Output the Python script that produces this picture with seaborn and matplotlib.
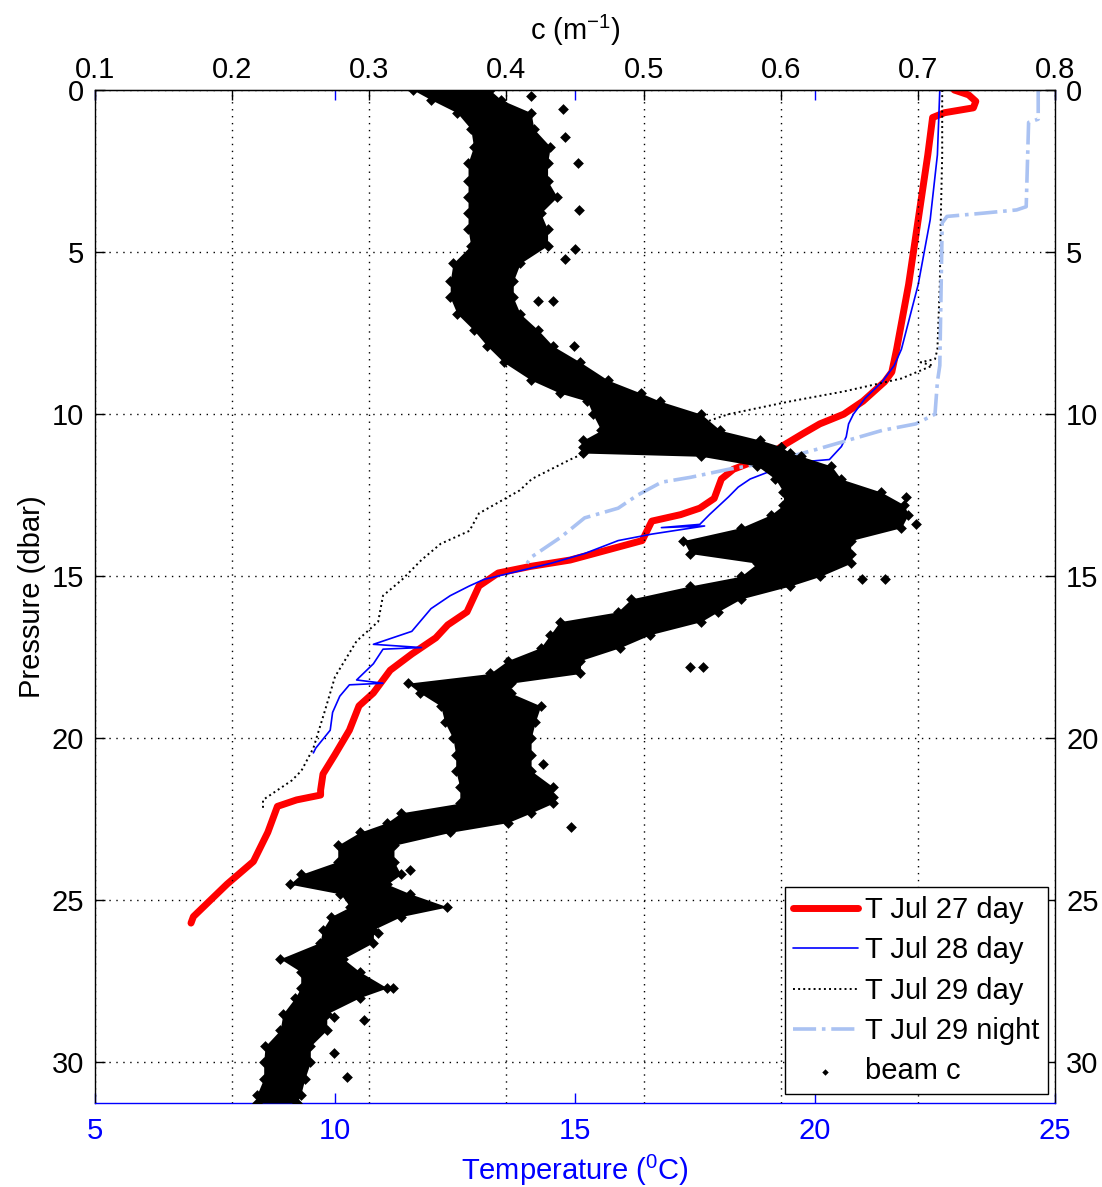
import numpy as np
import pandas as pd
import matplotlib
matplotlib.use("Agg")
import matplotlib.pyplot as plt
import seaborn as sns

# ========== DATA ==========
# temperature profiles: pressure (dbar) and temperature (degC)
p_jul27 = [0.0, 0.15, 0.35, 0.55, 0.7, 0.85, 2.0, 4.0, 6.0, 8.0, 8.7, 9.0, 9.2, 9.6, 10.0, 10.3,
           10.6, 11.0, 11.3, 11.7, 12.0, 12.6, 12.9, 13.1, 13.3, 13.9, 14.1, 14.5, 14.7, 14.9,
           15.3, 16.1, 16.5, 16.9, 17.4, 17.9, 18.6, 19.0, 19.75, 20.5, 21.1, 21.6, 21.75,
           21.9, 22.1, 22.9, 23.8, 24.5, 25.0, 25.5, 25.7]
t_jul27 = [22.9, 23.2, 23.35, 23.3, 22.7, 22.45, 22.35, 22.15, 21.95, 21.7, 21.6, 21.45, 21.3,
           21.0, 20.6, 20.1, 19.75, 19.3, 19.0, 18.3, 18.05, 17.9, 17.6, 17.2, 16.6, 16.4,
           15.9, 14.9, 14.06, 13.4, 13.0, 12.75, 12.35, 12.1, 11.6, 11.15, 10.8, 10.5, 10.3,
           10.0, 9.75, 9.7, 9.7, 9.2, 8.8, 8.6, 8.3, 7.75, 7.4, 7.05, 7.0]

p_jul28 = [0.0, 2.0, 4.0, 6.0, 8.0, 8.5, 9.0, 9.5, 10.0, 10.3, 10.7, 11.0, 11.4, 11.45, 11.5,
           11.8, 12.0, 12.25, 12.55, 13.1, 13.4, 13.5, 13.45, 13.7, 13.9, 14.3, 14.6, 15.1,
           15.3, 15.6, 16.0, 16.7, 17.1, 17.2, 17.25, 17.7, 18.2, 18.3, 18.35, 18.7, 19.2,
           19.75, 20.3, 20.45]
t_jul28 = [22.6, 22.55, 22.4, 22.15, 21.8, 21.65, 21.4, 21.05, 20.8, 20.7, 20.65, 20.55, 20.3,
           19.9, 19.3, 19.0, 18.65, 18.4, 18.2, 17.8, 17.6, 16.8, 17.7, 16.6, 15.9, 15.2, 14.5,
           13.1, 12.8, 12.4, 12.0, 11.6, 10.8, 11.8, 11.0, 10.8, 10.45, 11.0, 10.3, 10.1,
           9.95, 9.9, 9.6, 9.55]

p_jul29_day = [0.0, 2.0, 4.0, 6.0, 8.0, 8.3, 8.4, 8.5, 8.9, 9.3, 9.6, 10.0, 10.3, 10.7, 11.0,
               11.4, 11.7, 12.0, 12.35, 13.06, 13.6, 14.0, 14.5, 15.1, 15.6, 16.4, 17.0, 18.1,
               19.1, 20.3, 21.0, 21.3, 21.9, 22.2]
t_jul29_day = [22.65, 22.65, 22.62, 22.6, 22.55, 22.5, 22.2, 22.45, 21.8, 20.6, 19.5, 18.2,
               17.6, 16.35, 15.5, 14.9, 14.5, 14.1, 13.85, 13.0, 12.8, 12.2, 11.8, 11.4, 11.0,
               10.9, 10.45, 10.0, 9.8, 9.55, 9.3, 9.1, 8.5, 8.5]

p_jul29_night = [0.0, 0.9, 1.0, 3.6, 3.7, 3.8, 3.9, 4.1, 8.5, 9.0, 10.0, 10.3, 10.5, 10.8,
                 11.1, 11.3, 11.5, 11.7, 11.95, 12.1, 12.5, 12.9, 13.2, 13.8, 14.4, 14.6]
t_jul29_night = [24.65, 24.65, 24.45, 24.4, 24.2, 23.5, 22.75, 22.65, 22.6, 22.55, 22.5, 22.1,
                 21.4, 20.7, 20.0, 19.5, 19.0, 18.2, 17.4, 16.8, 16.3, 15.9, 15.2, 14.7, 14.1,
                 14.0]

# beam attenuation c (1/m): envelope of the scatter cloud vs pressure
p_beam = [0.0, 0.3, 0.7, 1.2, 1.75, 2.25, 2.8, 3.3, 3.8, 4.3, 4.8, 5.35, 5.9, 6.4, 6.9, 7.4,
          7.9, 8.4, 8.95, 9.35, 9.6, 10.0, 10.5, 10.8, 11.0, 11.2, 11.3, 11.6, 12.0, 12.4,
          12.8, 13.1, 13.5, 13.9, 14.3, 14.6, 15.0, 15.3, 15.7, 16.1, 16.4, 16.8, 17.2, 17.6,
          18.0, 18.3, 18.6, 19.0, 19.5, 20.0, 20.5, 21.0, 21.5, 22.0, 22.3, 22.6, 22.9, 23.3,
          23.8, 24.2, 24.5, 24.8, 25.2, 25.5, 25.9, 26.3, 26.8, 27.2, 27.7, 28.0, 28.5, 29.0,
          29.5, 30.0, 30.5, 31.0, 31.25]
c_beam_lo = [0.332, 0.345, 0.364, 0.374, 0.376, 0.372, 0.372, 0.372, 0.372, 0.372, 0.374,
             0.361, 0.359, 0.359, 0.364, 0.376, 0.386, 0.398, 0.418, 0.439, 0.459, 0.463,
             0.469, 0.456, 0.456, 0.456, 0.542, 0.583, 0.596, 0.602, 0.602, 0.593, 0.571,
             0.529, 0.534, 0.583, 0.571, 0.534, 0.491, 0.481, 0.439, 0.432, 0.425, 0.401,
             0.388, 0.328, 0.337, 0.352, 0.355, 0.361, 0.363, 0.363, 0.366, 0.366, 0.323,
             0.313, 0.293, 0.277, 0.277, 0.250, 0.242, 0.279, 0.286, 0.272, 0.266, 0.264,
             0.235, 0.250, 0.250, 0.246, 0.237, 0.235, 0.224, 0.223, 0.223, 0.218, 0.218]
c_beam_hi = [0.388, 0.396, 0.418, 0.420, 0.432, 0.430, 0.430, 0.437, 0.425, 0.430, 0.430,
             0.410, 0.405, 0.405, 0.410, 0.423, 0.434, 0.454, 0.474, 0.498, 0.512, 0.542,
             0.556, 0.585, 0.600, 0.607, 0.615, 0.637, 0.644, 0.673, 0.690, 0.693, 0.688,
             0.651, 0.651, 0.651, 0.629, 0.607, 0.571, 0.554, 0.542, 0.505, 0.483, 0.454,
             0.454, 0.403, 0.403, 0.425, 0.421, 0.418, 0.418, 0.418, 0.434, 0.434, 0.418,
             0.401, 0.359, 0.318, 0.318, 0.323, 0.313, 0.330, 0.357, 0.323, 0.303, 0.303,
             0.281, 0.293, 0.313, 0.293, 0.269, 0.269, 0.257, 0.257, 0.253, 0.250, 0.247]
# isolated beam c points outside the main cloud
p_beam_out = [0.2, 0.6, 1.45, 2.25, 3.7, 4.9, 5.2, 6.5, 6.5, 7.9, 12.55, 13.4, 15.1, 15.1,
              17.8, 17.8, 20.8, 21.8, 22.75, 24.05, 26.0, 27.7, 28.6, 28.7, 29.7, 30.45]
c_beam_out = [0.418, 0.441, 0.443, 0.452, 0.453, 0.450, 0.443, 0.434, 0.423, 0.449, 0.691,
              0.699, 0.659, 0.676, 0.534, 0.543, 0.427, 0.434, 0.447, 0.330, 0.306, 0.317,
              0.274, 0.296, 0.274, 0.284]

t_ticks = [5, 10, 15, 20, 25]
c_ticks = [0.1, 0.2, 0.3, 0.4, 0.5, 0.6, 0.7, 0.8]
p_ticks = [0, 5, 10, 15, 20, 25, 30]

# ========== STYLE ==========
sns.set_style("white")
plt.rcParams['font.family'] = ['Liberation Sans', 'DejaVu Sans']
plt.rcParams['mathtext.default'] = 'regular'
plt.rcParams['text.color'] = 'black'
plt.rcParams['axes.labelcolor'] = 'black'
FS = 21

fig = plt.figure(figsize=(11.02, 11.87), dpi=100)
ax = fig.add_axes([95 / 1102, 1 - 1103 / 1187, 960 / 1102, 1013 / 1187])
ax2 = ax.twiny()

# temperature profiles on the bottom axis
profiles = [
    (p_jul27, t_jul27, 'T Jul 27 day', '#ff0000', 5.0, '-'),
    (p_jul28, t_jul28, 'T Jul 28 day', '#0000ff', 1.2, '-'),
    (p_jul29_day, t_jul29_day, 'T Jul 29 day', 'black', 1.4, ':'),
    (p_jul29_night, t_jul29_night, 'T Jul 29 night', '#aac2f2', 2.6, '-.'),
]
for p, t, lab, col, lw, ls in profiles:
    df = pd.DataFrame({'T': t, 'p': p})
    sns.lineplot(data=df, x='T', y='p', sort=False, estimator=None, ax=ax,
                 color=col, lw=lw, ls=ls, label=lab)

# beam c on the top axis
ax2.fill_betweenx(p_beam, c_beam_lo, c_beam_hi, color='black', lw=0, zorder=2)
edge = pd.DataFrame({'c': c_beam_lo + c_beam_hi + c_beam_out,
                     'p': p_beam + p_beam + p_beam_out})
sns.scatterplot(data=edge, x='c', y='p', marker='D', s=30, color='black',
                linewidth=0, ax=ax2, label='beam c', zorder=3)

# ========== AXES ==========
ax.set_xlim(5, 25)
ax2.set_xlim(0.1, 0.8)
ax.set_ylim(31.25, 0)
ax2.set_ylim(31.25, 0)

ax.set_xticks(t_ticks)
ax.set_yticks(p_ticks)
ax2.set_xticks(c_ticks)
ax2.set_xticklabels([f"{v:.1f}" for v in c_ticks])

ax.tick_params(axis='x', which='both', direction='in', bottom=True, top=True,
               colors='#0000ff', length=7, width=1, labelsize=FS, pad=10)
ax.tick_params(axis='y', direction='in', left=True, right=True, labelleft=True,
               labelright=True, colors='black', length=7, width=1, labelsize=FS, pad=8)
ax2.tick_params(axis='x', direction='in', top=True, bottom=False, colors='black',
                length=7, width=1, labelsize=FS, pad=4)

ax.grid(False)
ax2.grid(False)
ax.yaxis.grid(True, ls=(0, (1, 4)), color='black', lw=1.0)
ax2.xaxis.grid(True, ls=(0, (1, 4)), color='black', lw=1.0)

for s in ['left', 'right', 'top']:
    ax.spines[s].set_color('black')
    ax.spines[s].set_linewidth(1.0)
ax.spines['bottom'].set_color('#0000ff')
ax.spines['bottom'].set_linewidth(1.0)
for s in ['left', 'right', 'bottom']:
    ax2.spines[s].set_visible(False)
ax2.spines['top'].set_color('black')

ax.set_xlabel('Temperature ($^{0}$C)', fontsize=FS, color='#0000ff', labelpad=6)
ax.set_ylabel('Pressure (dbar)', fontsize=FS, color='black', labelpad=4)
ax2.set_xlabel('c (m$^{-1}$)', fontsize=FS, color='black', labelpad=12)
ax2.set_ylabel('')

# ========== LEGEND ==========
h1, l1 = ax.get_legend_handles_labels()
h2, l2 = ax2.get_legend_handles_labels()
if ax.get_legend() is not None:
    ax.get_legend().remove()
leg = ax2.legend(h1 + h2, l1 + l2, loc='lower right', bbox_to_anchor=(0.9927, 0.0089),
                 borderaxespad=0, fontsize=FS, frameon=True, fancybox=False,
                 framealpha=1, edgecolor='black', handlelength=2.2, handletextpad=0.25,
                 labelspacing=0.42, borderpad=0.3, markerscale=0.6, labelcolor='black')
leg.get_frame().set_linewidth(1.0)

fig.savefig("out.png", dpi=100)
plt.close(fig)
